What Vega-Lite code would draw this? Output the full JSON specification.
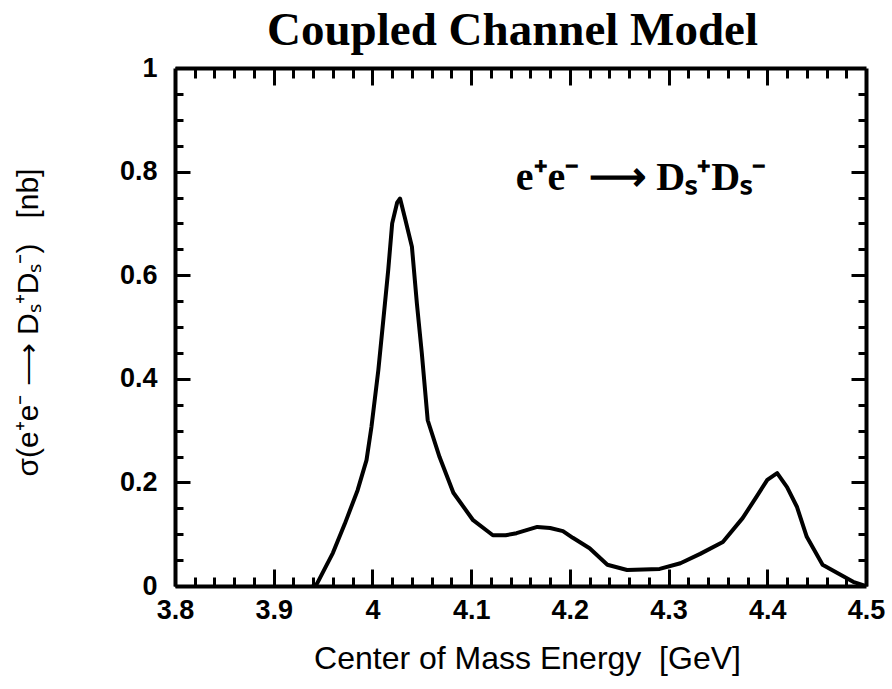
{
  "$schema": "https://vega.github.io/schema/vega-lite/v6.json",
  "autosize": "none",
  "padding": {"left": 175, "top": 68, "right": 26, "bottom": 103},
  "width": 691,
  "height": 518,
  "background": "white",
  "config": {
    "view": {"stroke": null},
    "axis": {"grid": false, "domainColor": "black", "tickColor": "black", "labelColor": "black", "titleColor": "black"}
  },
  "datasets": {
    "curve": [
      {"E": 3.94, "sigma": 0.0},
      {"E": 3.944, "sigma": 0.005},
      {"E": 3.96, "sigma": 0.064},
      {"E": 3.972, "sigma": 0.12},
      {"E": 3.985, "sigma": 0.185},
      {"E": 3.994, "sigma": 0.243},
      {"E": 3.999, "sigma": 0.307},
      {"E": 4.006, "sigma": 0.417},
      {"E": 4.011, "sigma": 0.513},
      {"E": 4.016, "sigma": 0.61},
      {"E": 4.02, "sigma": 0.7},
      {"E": 4.025, "sigma": 0.74},
      {"E": 4.028, "sigma": 0.748},
      {"E": 4.033, "sigma": 0.71},
      {"E": 4.04, "sigma": 0.655},
      {"E": 4.045, "sigma": 0.546},
      {"E": 4.05, "sigma": 0.45},
      {"E": 4.056, "sigma": 0.32},
      {"E": 4.068, "sigma": 0.249},
      {"E": 4.082, "sigma": 0.18},
      {"E": 4.102, "sigma": 0.127},
      {"E": 4.122, "sigma": 0.098},
      {"E": 4.135, "sigma": 0.098},
      {"E": 4.146, "sigma": 0.102},
      {"E": 4.167, "sigma": 0.114},
      {"E": 4.18, "sigma": 0.112},
      {"E": 4.193, "sigma": 0.106},
      {"E": 4.203, "sigma": 0.093},
      {"E": 4.22, "sigma": 0.073},
      {"E": 4.238, "sigma": 0.041},
      {"E": 4.258, "sigma": 0.031},
      {"E": 4.291, "sigma": 0.033},
      {"E": 4.312, "sigma": 0.044},
      {"E": 4.332, "sigma": 0.062},
      {"E": 4.355, "sigma": 0.085},
      {"E": 4.375, "sigma": 0.131},
      {"E": 4.389, "sigma": 0.172},
      {"E": 4.4, "sigma": 0.205},
      {"E": 4.41, "sigma": 0.218},
      {"E": 4.42, "sigma": 0.191},
      {"E": 4.43, "sigma": 0.153},
      {"E": 4.44, "sigma": 0.095},
      {"E": 4.456, "sigma": 0.041},
      {"E": 4.471, "sigma": 0.025},
      {"E": 4.487, "sigma": 0.008},
      {"E": 4.5, "sigma": 0.0}
    ],
    "note": [
      {"E": 4.272, "sigma": 0.764, "label": "e⁺e⁻ ⟶ Dₛ⁺Dₛ⁻"}
    ]
  },
  "data": {"name": "curve"},
  "resolve": {"axis": {"x": "independent", "y": "independent"}},
  "layer": [
    {
      "mark": {"type": "line", "color": "black", "strokeWidth": 4, "strokeJoin": "round", "strokeCap": "round", "clip": true},
      "encoding": {
        "x": {
          "field": "E", "type": "quantitative",
          "scale": {"domain": [3.8, 4.5], "nice": false, "zero": false},
          "axis": {
            "orient": "bottom",
            "values": [3.8, 3.9, 4.0, 4.1, 4.2, 4.3, 4.4, 4.5],
            "labelExpr": "format(datum.value, '.2~f')",
            "tickSize": -17, "tickWidth": 3,
            "domainWidth": 4,
            "labelFont": "Liberation Sans", "labelFontSize": 27, "labelFontWeight": "bold",
            "labelPadding": 28, "labelFlush": false, "labelOverlap": false,
            "title": "Center of Mass Energy\u00a0\u00a0[GeV]",
            "titleFont": "Liberation Sans", "titleFontSize": 32, "titleFontWeight": "normal",
            "titleX": 352, "titleY": 82, "titleBaseline": "alphabetic", "titleAnchor": "middle", "titleAlign": "center"
          }
        },
        "y": {
          "field": "sigma", "type": "quantitative",
          "scale": {"domain": [0, 1], "nice": false},
          "axis": {
            "orient": "left",
            "values": [0, 0.2, 0.4, 0.6, 0.8, 1],
            "labelExpr": "format(datum.value, '.2~f')",
            "tickSize": -15, "tickWidth": 3,
            "domainWidth": 4,
            "labelFont": "Liberation Sans", "labelFontSize": 27, "labelFontWeight": "bold",
            "labelPadding": 33, "labelFlush": false, "labelOverlap": false,
            "title": "σ(e⁺e⁻ ⟶ Dₛ⁺Dₛ⁻)\u00a0\u00a0\u00a0[nb]",
            "titleFont": "Liberation Sans", "titleFontSize": 30, "titleFontWeight": "normal",
            "titleX": -147, "titleY": 254, "titleAngle": -90, "titleBaseline": "middle", "titleAlign": "center", "titleAnchor": "middle"
          }
        }
      }
    },
    {
      "mark": {"type": "line", "strokeOpacity": 0},
      "encoding": {
        "x": {"field": "E", "type": "quantitative", "axis": {
          "orient": "top", "values": [3.9, 4.0, 4.1, 4.2, 4.3, 4.4], "tickSize": -17, "tickWidth": 3, "domainWidth": 4, "labels": false,
          "title": "Coupled Channel Model",
          "titleFont": "Liberation Serif", "titleFontSize": 47, "titleFontWeight": "bold",
          "titleX": 337, "titleY": -24, "titleBaseline": "alphabetic", "titleAnchor": "middle", "titleAlign": "center"
        }},
        "y": {"field": "sigma", "type": "quantitative", "axis": {"orient": "right", "values": [0.2, 0.4, 0.6, 0.8], "tickSize": -15, "tickWidth": 3, "domainWidth": 4, "labels": false, "title": null}}
      }
    },
    {
      "mark": {"type": "line", "strokeOpacity": 0},
      "encoding": {
        "x": {"field": "E", "type": "quantitative", "axis": {"orient": "bottom", "values": [3.82, 3.84, 3.86, 3.88, 3.92, 3.94, 3.96, 3.98, 4.02, 4.04, 4.06, 4.08, 4.12, 4.14, 4.16, 4.18, 4.22, 4.24, 4.26, 4.28, 4.32, 4.34, 4.36, 4.38, 4.42, 4.44, 4.46, 4.48], "tickSize": -9, "tickWidth": 3, "domain": false, "labels": false, "title": null}},
        "y": {"field": "sigma", "type": "quantitative", "axis": {"orient": "left", "values": [0.05, 0.1, 0.15, 0.25, 0.3, 0.35, 0.45, 0.5, 0.55, 0.65, 0.7, 0.75, 0.85, 0.9, 0.95], "tickSize": -8, "tickWidth": 3, "domain": false, "labels": false, "title": null}}
      }
    },
    {
      "mark": {"type": "line", "strokeOpacity": 0},
      "encoding": {
        "x": {"field": "E", "type": "quantitative", "axis": {"orient": "top", "values": [3.82, 3.84, 3.86, 3.88, 3.92, 3.94, 3.96, 3.98, 4.02, 4.04, 4.06, 4.08, 4.12, 4.14, 4.16, 4.18, 4.22, 4.24, 4.26, 4.28, 4.32, 4.34, 4.36, 4.38, 4.42, 4.44, 4.46, 4.48], "tickSize": -10, "tickWidth": 3, "domain": false, "labels": false, "title": null}},
        "y": {"field": "sigma", "type": "quantitative", "axis": {"orient": "right", "values": [0.05, 0.1, 0.15, 0.25, 0.3, 0.35, 0.45, 0.5, 0.55, 0.65, 0.7, 0.75, 0.85, 0.9, 0.95], "tickSize": -8, "tickWidth": 3, "domain": false, "labels": false, "title": null}}
      }
    },
    {
      "data": {"name": "note"},
      "mark": {"type": "text", "font": "Liberation Serif", "fontSize": 40, "fontWeight": "bold", "color": "black", "align": "center", "baseline": "alphabetic"},
      "encoding": {
        "x": {"field": "E", "type": "quantitative", "axis": null},
        "y": {"field": "sigma", "type": "quantitative", "axis": null},
        "text": {"field": "label"}
      }
    }
  ]
}
